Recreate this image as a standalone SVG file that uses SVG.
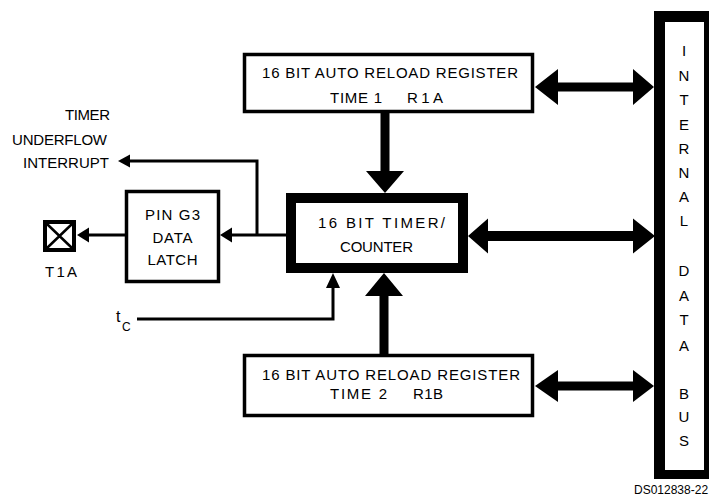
<svg xmlns="http://www.w3.org/2000/svg" width="709" height="498" viewBox="0 0 709 498">
<style>
text{font-family:"Liberation Sans",Arial,sans-serif;font-size:15px;fill:#000}
.box{fill:#fff;stroke:#000;stroke-width:3.5}
.thick{fill:#fff;stroke:#000;stroke-width:10}
.wire{fill:none;stroke:#000;stroke-width:3}
.bar{fill:#000}
.mid{text-anchor:middle}
.end{text-anchor:end}
.tt{font-size:16px}
.sub{font-size:12px}
.code{font-size:12px}
</style>
<rect width="709" height="498" fill="#fff"/>

<g id="connectors">
  <!-- top register to bus -->
  <polygon class="bar" points="535,87 558,69 558,82.5 633,82.5 633,69 654,87 633,105 633,91.5 558,91.5 558,105"/>
  <!-- top register down to timer -->
  <polygon class="bar" points="380.5,113 389.5,113 389.5,171 404,171 385,193 366,171 380.5,171"/>
  <!-- timer to bus -->
  <polygon class="bar" points="468,236 488,218.5 488,231 633,231 633,218.5 655,236 633,253.5 633,241 488,241 488,253.5"/>
  <!-- bottom register to bus -->
  <polygon class="bar" points="535,386 558,370 558,381.5 633,381.5 633,370 654,386 633,402 633,390.5 558,390.5 558,402"/>
  <!-- bottom register up to timer -->
  <polygon class="bar" points="379.5,354 388.5,354 388.5,296 403,296 384,273 365,296 379.5,296"/>
  <!-- timer to pin latch -->
  <polyline class="wire" points="286,235 231,235"/>
  <polygon class="bar" points="220,235 232,227.5 232,242.5"/>
  <!-- underflow interrupt -->
  <polyline class="wire" points="257,235 257,161 129,161"/>
  <polygon class="bar" points="118,161 130,154.5 130,167.5"/>
  <!-- latch to T1A -->
  <polyline class="wire" points="125,235 87,235"/>
  <polygon class="bar" points="77,235 89,227.5 89,242.5"/>
  <!-- tc to timer -->
  <polyline class="wire" points="137,319 333,319 333,286"/>
  <polygon class="bar" points="333,273 326,288 340,288"/>
</g>

<g id="reg1">
  <rect class="box" x="244.5" y="54.5" width="288" height="57"/>
  <text x="262" y="78" textLength="256" lengthAdjust="spacing">16 BIT AUTO RELOAD REGISTER</text>
  <text x="330" y="103" textLength="52" lengthAdjust="spacing">TIME 1</text>
  <text x="407" y="103" textLength="36" lengthAdjust="spacing">R1A</text>
</g>

<g id="timer">
  <rect class="thick" x="291" y="198" width="172" height="70"/>
  <text x="318" y="228" textLength="127" lengthAdjust="spacing">16 BIT TIMER/</text>
  <text x="340" y="252" textLength="73" lengthAdjust="spacing">COUNTER</text>
</g>

<g id="reg2">
  <rect class="box" x="244.5" y="355.5" width="288" height="60"/>
  <text x="262" y="380" textLength="258" lengthAdjust="spacing">16 BIT AUTO RELOAD REGISTER</text>
  <text x="330" y="399" textLength="57" lengthAdjust="spacing">TIME 2</text>
  <text x="413" y="399" textLength="30" lengthAdjust="spacing">R1B</text>
</g>

<g id="latch">
  <rect class="box" x="126.5" y="191.5" width="92" height="90"/>
  <text class="mid" x="172.5" y="220" textLength="55" lengthAdjust="spacing">PIN G3</text>
  <text class="mid" x="172.5" y="243" textLength="40" lengthAdjust="spacing">DATA</text>
  <text class="mid" x="172.5" y="265" textLength="50" lengthAdjust="spacing">LATCH</text>
</g>

<g id="t1a">
  <rect x="45" y="222" width="29" height="28" fill="#fff" stroke="#000" stroke-width="4"/>
  <path d="M47,224 L72,248 M72,224 L47,248" stroke="#000" stroke-width="2.5" fill="none"/>
  <text class="mid" x="61" y="277" textLength="32" lengthAdjust="spacing">T1A</text>
</g>

<g id="interrupt-label">
  <text class="end" x="110" y="120" textLength="45" lengthAdjust="spacing">TIMER</text>
  <text class="end" x="107" y="145" textLength="95" lengthAdjust="spacing">UNDERFLOW</text>
  <text class="end" x="109" y="168" textLength="86" lengthAdjust="spacing">INTERRUPT</text>
</g>

<g id="tc">
  <text class="tt" x="116" y="322">t</text>
  <text class="sub" x="122" y="331">C</text>
</g>

<g id="bus">
  <rect x="654" y="11" width="55" height="468" fill="#000"/>
  <rect x="665" y="22" width="39" height="448" fill="#fff"/>
  <g>
    <text class="mid" x="684" y="56">I</text>
    <text class="mid" x="684" y="81">N</text>
    <text class="mid" x="684" y="105">T</text>
    <text class="mid" x="684" y="130">E</text>
    <text class="mid" x="684" y="154">R</text>
    <text class="mid" x="684" y="178">N</text>
    <text class="mid" x="684" y="202">A</text>
    <text class="mid" x="684" y="226">L</text>
    <text class="mid" x="684" y="276">D</text>
    <text class="mid" x="684" y="301">A</text>
    <text class="mid" x="684" y="325">T</text>
    <text class="mid" x="684" y="351">A</text>
    <text class="mid" x="684" y="399">B</text>
    <text class="mid" x="684" y="422">U</text>
    <text class="mid" x="684" y="446">S</text>
  </g>
</g>

<text class="code" x="634" y="494">DS012838-22</text>
</svg>
